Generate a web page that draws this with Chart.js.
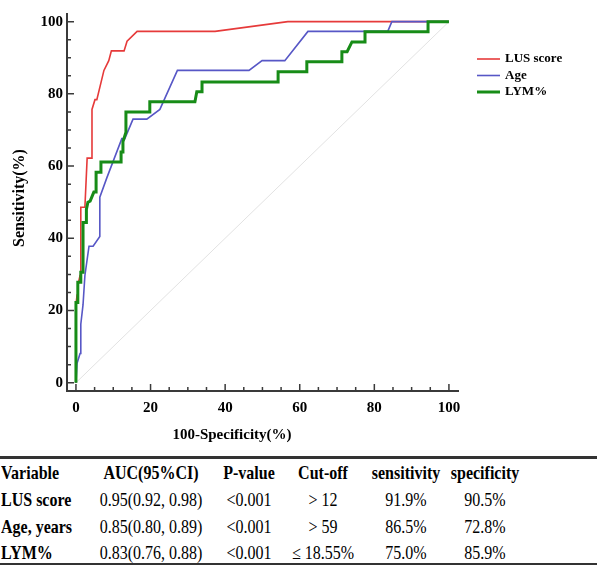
<!DOCTYPE html>
<html>
<head>
<meta charset="utf-8">
<script src="https://cdn.jsdelivr.net/npm/chart.js@4/dist/chart.umd.min.js"></script>
<style>
  body { margin: 0; background: #fff; font-family: "Liberation Serif", "Times New Roman", serif; }
  #wrap { position: relative; width: 597px; height: 565px; overflow: hidden; }
  #roc { position: absolute; left: 0; top: 0; }
  #stats { position: absolute; left: 0; top: 456px; width: 597px; height: 104px;
           border-top: 3px solid #333; border-bottom: 2px solid #333; }
  .row { position: absolute; left: 0; width: 597px; height: 26px; line-height: 26px; font-size: 16px; color: #000; }
  .row span { position: absolute; top: 0; white-space: nowrap; transform: translateX(-50%) scaleY(1.15); }
  .row span.first { transform: scaleY(1.15); font-weight: bold; }
  .row.head span { font-weight: bold; }
</style>
</head>
<body>
<div id="wrap">
  <canvas id="roc" width="597" height="448"></canvas>
  <div id="stats"></div>
</div>
<script>
// ROC curves, values in percent (x = 100-specificity, y = sensitivity)
const lusFpr = [0, 0, 0.3, 0.5, 1.1, 1.3, 2.4, 3.0, 4.3, 4.3, 5.1, 5.6, 7.5, 8.8, 9.5, 12.9, 13.7, 16.4, 37.3, 56.8, 100];
const lusTpr = [0, 21.6, 24.3, 27.0, 29.7, 48.6, 48.6, 62.2, 62.2, 75.7, 78.4, 78.4, 86.5, 89.2, 91.9, 91.9, 94.6, 97.3, 97.3, 100, 100];

const ageFpr = [0, 0.3, 1.1, 1.3, 1.9, 2.4, 3.5, 4.6, 6.4, 6.4, 8.3, 12.3, 13.1, 15.3, 19.0, 22.5, 27.2, 46.4, 49.9, 56.0, 62.2, 83.6, 84.7, 100];
const ageTpr = [0, 5.4, 8.1, 16.2, 21.6, 29.7, 37.8, 37.8, 40.5, 51.4, 56.8, 67.6, 67.6, 73.0, 73.0, 75.7, 86.5, 86.5, 89.2, 89.2, 97.3, 97.3, 100, 100];

const lymFpr = [0, 0, 0.5, 0.5, 1.3, 1.3, 1.9, 1.9, 2.8, 2.8, 3.2, 3.8, 4.8, 5.4, 5.4, 6.7, 6.7, 12.1, 12.1, 12.6, 12.6, 13.4, 13.4,
  19.8, 19.8, 31.9, 32.4, 33.8, 33.8, 54.2, 54.2, 61.9, 61.9, 71.3, 71.3, 72.7, 74.0, 77.5, 77.5, 94.4, 94.4, 100];
const lymTpr = [0, 22.2, 22.2, 27.8, 27.8, 30.6, 30.6, 44.4, 44.4, 48.0, 50.0, 50.3, 52.8, 52.8, 58.3, 58.3, 61.1, 61.1, 63.9, 63.9, 66.7, 69.4, 75.0,
  75.0, 77.8, 77.8, 80.6, 80.6, 83.3, 83.3, 86.1, 86.1, 88.9, 88.9, 91.7, 91.7, 94.4, 94.4, 97.2, 97.2, 100, 100];

const diagX = [0, 100];
const diagY = [0, 100];

const tickValues = [0, 20, 40, 60, 80, 100];
const xAxisTitle = '100-Specificity(%)';
const yAxisTitle = 'Sensitivity(%)';

// summary table
const tableHeader = ['Variable', 'AUC(95%CI)', 'P-value', 'Cut-off', 'sensitivity', 'specificity'];
const tableVariables = ['LUS score', 'Age, years', 'LYM%'];
const tableAuc = ['0.95(0.92, 0.98)', '0.85(0.80, 0.89)', '0.83(0.76, 0.88)'];
const tablePValue = ['<0.001', '<0.001', '<0.001'];
const tableCutoff = ['> 12', '> 59', '\u2264 18.55%'];
const tableSensitivity = ['91.9%', '86.5%', '75.0%'];
const tableSpecificity = ['90.5%', '72.8%', '85.9%'];

const serif = '"Liberation Serif", "Times New Roman", serif';
const axisColor = '#3a3a3a';

function toPoints(xs, ys) {
  return xs.map((x, i) => ({ x, y: ys[i] }));
}

// axis lines with inward ticks, axis titles and the legend block
const rocDecor = {
  id: 'rocDecor',
  afterDraw(chart) {
    const { ctx, chartArea: area, scales: { x, y } } = chart;
    ctx.save();
    ctx.strokeStyle = axisColor;
    ctx.lineWidth = 2;
    ctx.beginPath();
    ctx.moveTo(area.left, area.top);
    ctx.lineTo(area.left, area.bottom);
    ctx.lineTo(area.right, area.bottom);
    ctx.stroke();

    ctx.lineWidth = 1.5;
    for (let v = 0; v <= 100; v += 5) {
      const len = v % 20 === 0 ? 7 : 4;
      const px = x.getPixelForValue(v);
      const py = y.getPixelForValue(v);
      ctx.beginPath();
      ctx.moveTo(px, area.bottom);
      ctx.lineTo(px, area.bottom - len);
      ctx.moveTo(area.left, py);
      ctx.lineTo(area.left + len, py);
      ctx.stroke();
    }

    ctx.fillStyle = '#000';
    ctx.font = 'bold 15px ' + serif;
    ctx.textAlign = 'center';
    ctx.textBaseline = 'middle';
    ctx.fillText(xAxisTitle, area.left + 165, area.bottom + 44);
    ctx.save();
    ctx.font = 'bold 16px ' + serif;
    ctx.translate(20, (area.top + area.bottom) / 2 - 4);
    ctx.rotate(-Math.PI / 2);
    ctx.fillText(yAxisTitle, 0, 0);
    ctx.restore();

    // legend
    ctx.font = 'bold 13px ' + serif;
    ctx.textAlign = 'left';
    let ly = 59;
    chart.data.datasets.forEach((ds) => {
      if (!ds.label) return;
      ctx.strokeStyle = ds.borderColor;
      ctx.lineWidth = ds.borderWidth;
      ctx.beginPath();
      ctx.moveTo(area.right + 18, ly);
      ctx.lineTo(area.right + 41, ly);
      ctx.stroke();
      ctx.fillText(ds.label, area.right + 46, ly);
      ly += 16.5;
    });
    ctx.restore();
  },
};

const tickFont = { family: serif, size: 15, weight: 'bold' };

new Chart(document.getElementById('roc'), {
  type: 'line',
  data: {
    datasets: [
      { label: 'LUS score', data: toPoints(lusFpr, lusTpr), borderColor: '#e63a3a', borderWidth: 1.6, order: 2 },
      { label: 'Age', data: toPoints(ageFpr, ageTpr), borderColor: '#5757c6', borderWidth: 1.6, order: 1 },
      { label: 'LYM%', data: toPoints(lymFpr, lymTpr), borderColor: '#178c17', borderWidth: 3, order: 0 },
      { label: '', data: toPoints(diagX, diagY), borderColor: '#e2e2e2', borderWidth: 1, order: 3 },
    ],
  },
  options: {
    responsive: false,
    animation: false,
    layout: { padding: { right: 138 } },
    elements: { point: { radius: 0 }, line: { tension: 0, fill: false } },
    plugins: { legend: { display: false }, tooltip: { enabled: false } },
    scales: {
      x: {
        type: 'linear',
        min: -2.4,
        max: 102.7,
        grid: { display: false, drawTicks: false },
        border: { display: false },
        afterBuildTicks: (s) => { s.ticks = tickValues.map((value) => ({ value })); },
        afterFit: (s) => { s.height = 57; },
        ticks: { padding: 8, maxRotation: 0, color: '#000', font: tickFont },
      },
      y: {
        type: 'linear',
        min: -2.3,
        max: 102.4,
        grid: { display: false, drawTicks: false },
        border: { display: false },
        afterBuildTicks: (s) => { s.ticks = tickValues.map((value) => ({ value })); },
        afterFit: (s) => { s.width = 67; },
        ticks: { padding: 4, color: '#000', font: tickFont },
      },
    },
  },
  plugins: [rocDecor],
});

// table below the chart
const colCenters = [0, 151, 249, 323, 406, 485];
const rowTops = [1, 28, 55, 81];
const stats = document.getElementById('stats');

function addRow(cells, top, isHead) {
  const row = document.createElement('div');
  row.className = isHead ? 'row head' : 'row';
  row.style.top = top + 'px';
  cells.forEach((text, i) => {
    const span = document.createElement('span');
    span.textContent = text;
    if (i === 0) {
      span.className = 'first';
      span.style.left = '1px';
    } else {
      span.style.left = colCenters[i] + 'px';
    }
    row.appendChild(span);
  });
  stats.appendChild(row);
}

addRow(tableHeader, rowTops[0], true);
tableVariables.forEach((name, i) => {
  addRow([name, tableAuc[i], tablePValue[i], tableCutoff[i], tableSensitivity[i], tableSpecificity[i]], rowTops[i + 1], false);
});
</script>
</body>
</html>
